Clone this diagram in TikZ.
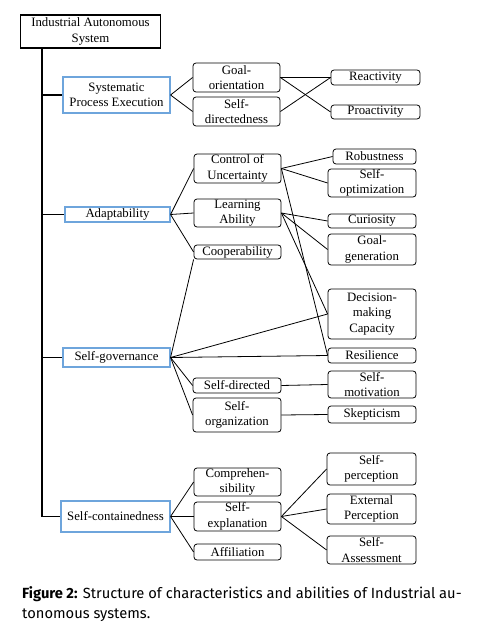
\documentclass[tikz,border=0pt]{standalone}
\usepackage{fontspec}
\setmainfont{Liberation Serif}
\newfontfamily\capfont{Fira Sans}
\begin{document}
\begin{tikzpicture}[x=1pt,y=-1pt,
  box/.style={draw=black, rounded corners=3pt, line width=0.8pt, align=center, inner sep=0pt,
    font=\fontsize{12.8}{15.5}\selectfont, minimum width=#1},
  box/.default=88pt,
  bluebox/.style={draw={rgb,255:red,110;green,165;blue,220}, line width=1.1pt, align=center, inner sep=0pt,
    font=\fontsize{12.8}{15.5}\selectfont},
  edge/.style={draw=black, line width=0.8pt},
  trunkline/.style={draw=black, line width=1.8pt}
]
\useasboundingbox (0,0) rectangle (480,631);
\fill[white] (0,0) rectangle (480,631);

% root
\node[draw=black, line width=1.6pt, align=center, inner sep=0pt, minimum width=140pt, minimum height=33pt,
  font=\fontsize{12.8}{15.5}\selectfont] (root) at (90.5,31.5) {Industrial Autonomous\\System};
\coordinate (trunk) at (42,0);

% level 1
\node[bluebox, minimum width=107pt, minimum height=36pt] (spe) at (116.5,95) {Systematic\\Process Execution};
\node[bluebox, minimum width=105pt, minimum height=15pt] (adapt) at (117.5,214.5) {Adaptability};
\node[bluebox, minimum width=107pt, minimum height=19pt] (selfgov) at (116.5,357.5) {Self-governance};
\node[bluebox, minimum width=109pt, minimum height=31pt] (selfcont) at (115.5,516.5) {Self-containedness};

% level 2
\node[box=87pt, minimum height=29pt] (goal) at (236.5,77.5) {Goal-\\orientation};
\node[box=87pt, minimum height=29pt] (selfdir) at (236.5,111.5) {Self-\\directedness};
\node[box=87pt, minimum height=29pt] (ctrl) at (237.5,168.5) {Control of\\Uncertainty};
\node[box=87pt, minimum height=28pt] (learn) at (237.5,213) {Learning\\Ability};
\node[box=87pt, minimum height=14pt] (coop) at (237.5,252) {Cooperability};
\node[box=88pt, minimum height=15pt] (selfdirected) at (237,385.5) {Self-directed};
\node[box=88pt, minimum height=34pt] (selforg) at (237,415) {Self-\\organization};
\node[box=87pt, minimum height=28pt] (compr) at (237.5,482) {Comprehen-\\sibility};
\node[box=87pt, minimum height=29pt] (selfexp) at (237.5,516.5) {Self-\\explanation};
\node[box=87pt, minimum height=16pt] (affil) at (237.5,552) {Affiliation};

% level 3
\node[box=89pt, minimum height=15pt] (react) at (375.5,77.5) {Reactivity};
\node[box=89pt, minimum height=14pt] (proact) at (375.5,112) {Proactivity};
\node[box=83pt, minimum height=15pt] (robust) at (374.5,156.5) {Robustness};
\node[box=88pt, minimum height=28pt] (selfopt) at (372,183) {Self-\\optimization};
\node[box=88pt, minimum height=14pt] (curio) at (372,221) {Curiosity};
\node[box=88pt, minimum height=31pt] (goalgen) at (372,249.5) {Goal-\\generation};
\node[box=88pt, minimum height=50pt] (decision) at (372,314) {Decision-\\making\\Capacity};
\node[box=88pt, minimum height=15pt] (resil) at (372,355.5) {Resilience};
\node[box=88pt, minimum height=27pt] (selfmot) at (372,384.5) {Self-\\motivation};
\node[box=88pt, minimum height=17pt] (skept) at (372,414.5) {Skepticism};
\node[box=89pt, minimum height=32pt] (selfperc) at (371.5,469) {Self-\\perception};
\node[box=89pt, minimum height=30pt] (extperc) at (371.5,509) {External\\Perception};
\node[box=89pt, minimum height=28pt] (selfassess) at (371.5,550) {Self-\\Assessment};

% trunk
\draw[trunkline] (root.south -| trunk) -- (selfcont.west -| trunk);
\foreach \n in {spe,adapt,selfgov,selfcont}{
  \draw[trunkline] (\n.west -| trunk) -- (\n.west);
}

% edges
\draw[edge] (spe.east) -- (goal.west);
\draw[edge] (spe.east) -- (selfdir.west);
\draw[edge] (goal.east) -- (react.west);
\draw[edge] (goal.east) -- (proact.west);
\draw[edge] (selfdir.east) -- (react.west);

\draw[edge] (adapt.east) -- (ctrl.west);
\draw[edge] (adapt.east) -- (learn.west);
\draw[edge] (adapt.east) -- (coop.west);
\draw[edge] (ctrl.east) -- (robust.west);
\draw[edge] (ctrl.east) -- (selfopt.west);
\draw[edge] (ctrl.east) -- (resil.west);
\draw[edge] (learn.east) -- (curio.west);
\draw[edge] (learn.east) -- (goalgen.west);
\draw[edge] (learn.east) -- (decision.west);

\draw[edge] (selfgov.east) -- (coop.south west);
\draw[edge] (selfgov.east) -- (decision.west);
\draw[edge] (selfgov.east) -- (resil.west);
\draw[edge] (selfgov.east) -- (selfdirected.west);
\draw[edge] (selfgov.east) -- (selforg.west);
\draw[edge] (selfdirected.east) -- (selfmot.west);
\draw[edge] (selforg.east) -- (skept.west);

\draw[edge] (selfcont.east) -- (compr.west);
\draw[edge] (selfcont.east) -- (selfexp.west);
\draw[edge] (selfcont.east) -- (affil.west);
\draw[edge] (selfexp.east) -- (selfperc.west);
\draw[edge] (selfexp.east) -- (extperc.west);
\draw[edge] (selfexp.east) -- (selfassess.west);

% caption
\node[anchor=base west, inner sep=0pt, font=\capfont\fontsize{14.7}{20}\selectfont] (cap1) at (22,598)
  {\textbf{Figure 2:} Structure of characteristics and abilities of Industrial au-};
\node[anchor=base west, inner sep=0pt, font=\capfont\fontsize{14.7}{20}\selectfont] (cap2) at (22,618)
  {tonomous systems.};
\end{tikzpicture}
\end{document}
